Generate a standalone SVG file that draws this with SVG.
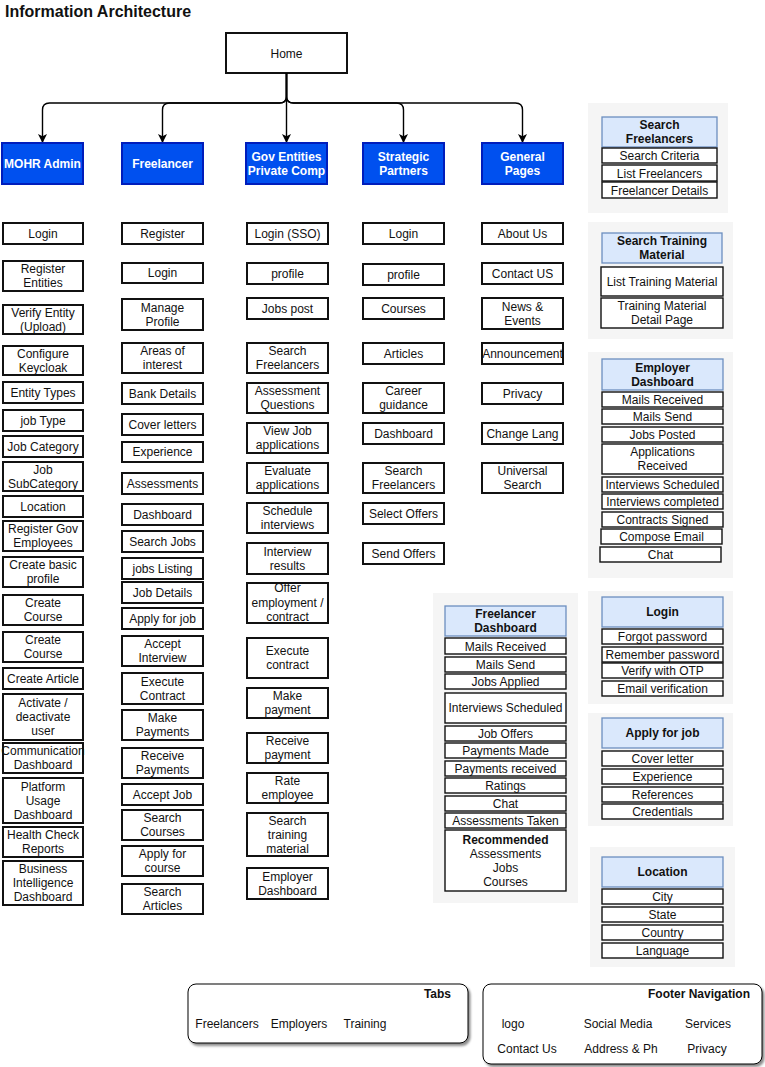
<svg xmlns="http://www.w3.org/2000/svg" width="765" height="1067" viewBox="0 0 765 1067">
  <style>
    text { font-family: "Liberation Sans", Arial, Helvetica, sans-serif; font-size: 12px; fill: #111; }
    .c { text-anchor: middle; }
    .b { font-weight: bold; }
    .box rect { fill: #fff; stroke: #111; stroke-width: 2; }
    .top rect { fill: #0050ef; stroke: #001dbc; stroke-width: 2; }
    .top text { fill: #fff; font-weight: bold; text-anchor: middle; }
    .panel { fill: #f5f5f5; }
    .hdr rect { fill: #dae8fc; stroke: #6c8ebf; stroke-width: 1.3; }
    .hdr text { font-weight: bold; text-anchor: middle; }
    .item rect { fill: #fff; stroke: #111; stroke-width: 1.4; }
    .item text { text-anchor: middle; }
    .edge { fill: none; stroke: #000; stroke-width: 1.4; }
    .card { fill: #fff; stroke: #000; stroke-width: 1; filter: url(#shadow); }
  </style>
  <defs>
    <marker id="arrow" viewBox="0 0 10 10" refX="10" refY="5" markerWidth="9" markerHeight="9" markerUnits="userSpaceOnUse" orient="auto">
      <path d="M0,0 L10,5 L0,10 L2.5,5 Z" fill="#000"/>
    </marker>
    <filter id="shadow" x="-5%" y="-10%" width="110%" height="130%">
      <feDropShadow dx="2" dy="2.5" stdDeviation="1" flood-color="#000" flood-opacity="0.45"/>
    </filter>
  </defs>

  <text x="5" y="17" class="b" style="font-size:16px">Information Architecture</text>

  <!-- root -->
  <g id="home" class="box">
    <rect x="226" y="33" width="121" height="40"/>
    <text x="286.5" y="58" class="c">Home</text>
  </g>

  <!-- tree connectors -->
  <g id="connectors">
    <path class="edge" marker-end="url(#arrow)" d="M286.5,73 V143"/>
    <path class="edge" marker-end="url(#arrow)" d="M286.5,73 V96 Q286.5,103 279.5,103 H49.5 Q42.5,103 42.5,110 V143"/>
    <path class="edge" marker-end="url(#arrow)" d="M286.5,73 V96 Q286.5,103 279.5,103 H169.5 Q162.5,103 162.5,110 V143"/>
    <path class="edge" marker-end="url(#arrow)" d="M286.5,73 V96 Q286.5,103 293.5,103 H396.5 Q403.5,103 403.5,110 V143"/>
    <path class="edge" marker-end="url(#arrow)" d="M286.5,73 V96 Q286.5,103 293.5,103 H515.5 Q522.5,103 522.5,110 V143"/>
  </g>

  <!-- sections -->
  <g id="mohr-admin" class="top"><rect x="2" y="143" width="81" height="41"/><text x="42.5" y="167.5">MOHR Admin</text></g>
  <g id="freelancer" class="top"><rect x="122" y="143" width="81" height="41"/><text x="162.5" y="167.5">Freelancer</text></g>
  <g id="gov-entities" class="top"><rect x="246" y="143" width="81" height="41"/><text x="286.5" y="160.5">Gov Entities</text><text x="286.5" y="174.5">Private Comp</text></g>
  <g id="strategic-partners" class="top"><rect x="363" y="143" width="81" height="41"/><text x="403.5" y="160.5">Strategic</text><text x="403.5" y="174.5">Partners</text></g>
  <g id="general-pages" class="top"><rect x="482" y="143" width="81" height="41"/><text x="522.5" y="160.5">General</text><text x="522.5" y="174.5">Pages</text></g>

  <!-- MOHR Admin pages -->
  <g id="admin-pages" class="box">
    <g id="a-login"><rect x="3" y="223" width="80" height="21"/><text x="43" y="237.5" class="c">Login</text></g>
    <g id="a-register-entities"><rect x="3" y="261" width="80" height="30"/><text x="43" y="273" class="c">Register</text><text x="43" y="287" class="c">Entities</text></g>
    <g id="a-verify-entity"><rect x="3" y="305" width="80" height="29"/><text x="43" y="316.5" class="c">Verify Entity</text><text x="43" y="330.5" class="c">(Upload)</text></g>
    <g id="a-keycloak"><rect x="3" y="346" width="80" height="29"/><text x="43" y="357.5" class="c">Configure</text><text x="43" y="371.5" class="c">Keycloak</text></g>
    <g id="a-entity-types"><rect x="3" y="382" width="80" height="21"/><text x="43" y="396.5" class="c">Entity Types</text></g>
    <g id="a-job-type"><rect x="3" y="410" width="80" height="21"/><text x="43" y="424.5" class="c">job Type</text></g>
    <g id="a-job-category"><rect x="3" y="436" width="80" height="21"/><text x="43" y="450.5" class="c">Job Category</text></g>
    <g id="a-job-subcategory"><rect x="3" y="462" width="80" height="29"/><text x="43" y="473.5" class="c">Job</text><text x="43" y="487.5" class="c">SubCategory</text></g>
    <g id="a-location"><rect x="3" y="496" width="80" height="21"/><text x="43" y="510.5" class="c">Location</text></g>
    <g id="a-register-gov"><rect x="3" y="521" width="80" height="30"/><text x="43" y="533" class="c">Register Gov</text><text x="43" y="547" class="c">Employees</text></g>
    <g id="a-basic-profile"><rect x="3" y="557" width="80" height="30"/><text x="43" y="569" class="c">Create basic</text><text x="43" y="583" class="c">profile</text></g>
    <g id="a-create-course-1"><rect x="3" y="595" width="80" height="30"/><text x="43" y="607" class="c">Create</text><text x="43" y="621" class="c">Course</text></g>
    <g id="a-create-course-2"><rect x="3" y="632" width="80" height="30"/><text x="43" y="644" class="c">Create</text><text x="43" y="658" class="c">Course</text></g>
    <g id="a-create-article"><rect x="3" y="668" width="80" height="21"/><text x="43" y="682.5" class="c">Create Article</text></g>
    <g id="a-activate-user"><rect x="3" y="694" width="80" height="46"/><text x="43" y="707" class="c">Activate /</text><text x="43" y="721" class="c">deactivate</text><text x="43" y="735" class="c">user</text></g>
    <g id="a-communication"><rect x="3" y="743" width="80" height="30"/><text x="43" y="755" class="c">Communication</text><text x="43" y="769" class="c">Dashboard</text></g>
    <g id="a-platform-usage"><rect x="3" y="778" width="80" height="45"/><text x="43" y="790.5" class="c">Platform</text><text x="43" y="804.5" class="c">Usage</text><text x="43" y="818.5" class="c">Dashboard</text></g>
    <g id="a-health-check"><rect x="3" y="827" width="80" height="30"/><text x="43" y="839" class="c">Health Check</text><text x="43" y="853" class="c">Reports</text></g>
    <g id="a-bi-dashboard"><rect x="3" y="861" width="80" height="44"/><text x="43" y="873" class="c">Business</text><text x="43" y="887" class="c">Intelligence</text><text x="43" y="901" class="c">Dashboard</text></g>
  </g>

  <!-- Freelancer pages -->
  <g id="freelancer-pages" class="box">
    <g id="f-register"><rect x="122" y="223" width="81" height="21"/><text x="162.5" y="237.5" class="c">Register</text></g>
    <g id="f-login"><rect x="122" y="263" width="81" height="20"/><text x="162.5" y="277" class="c">Login</text></g>
    <g id="f-manage-profile"><rect x="122" y="299" width="81" height="31"/><text x="162.5" y="311.5" class="c">Manage</text><text x="162.5" y="325.5" class="c">Profile</text></g>
    <g id="f-areas"><rect x="122" y="343" width="81" height="30"/><text x="162.5" y="355" class="c">Areas of</text><text x="162.5" y="369" class="c">interest</text></g>
    <g id="f-bank"><rect x="122" y="383" width="81" height="21"/><text x="162.5" y="397.5" class="c">Bank Details</text></g>
    <g id="f-cover"><rect x="122" y="414" width="81" height="21"/><text x="162.5" y="428.5" class="c">Cover letters</text></g>
    <g id="f-experience"><rect x="122" y="442" width="81" height="20"/><text x="162.5" y="456" class="c">Experience</text></g>
    <g id="f-assessments"><rect x="122" y="473" width="81" height="21"/><text x="162.5" y="487.5" class="c">Assessments</text></g>
    <g id="f-dashboard"><rect x="122" y="504" width="81" height="21"/><text x="162.5" y="518.5" class="c">Dashboard</text></g>
    <g id="f-search-jobs"><rect x="122" y="531" width="81" height="21"/><text x="162.5" y="545.5" class="c">Search Jobs</text></g>
    <g id="f-jobs-listing"><rect x="122" y="558" width="81" height="21"/><text x="162.5" y="572.5" class="c">jobs Listing</text></g>
    <g id="f-job-details"><rect x="122" y="582" width="81" height="21"/><text x="162.5" y="596.5" class="c">Job Details</text></g>
    <g id="f-apply-job"><rect x="122" y="608" width="81" height="21"/><text x="162.5" y="622.5" class="c">Apply for job</text></g>
    <g id="f-accept-interview"><rect x="122" y="636" width="81" height="30"/><text x="162.5" y="648" class="c">Accept</text><text x="162.5" y="662" class="c">Interview</text></g>
    <g id="f-execute-contract"><rect x="122" y="673" width="81" height="31"/><text x="162.5" y="685.5" class="c">Execute</text><text x="162.5" y="699.5" class="c">Contract</text></g>
    <g id="f-make-payments"><rect x="122" y="710" width="81" height="30"/><text x="162.5" y="722" class="c">Make</text><text x="162.5" y="736" class="c">Payments</text></g>
    <g id="f-receive-payments"><rect x="122" y="748" width="81" height="30"/><text x="162.5" y="760" class="c">Receive</text><text x="162.5" y="774" class="c">Payments</text></g>
    <g id="f-accept-job"><rect x="122" y="784" width="81" height="21"/><text x="162.5" y="798.5" class="c">Accept Job</text></g>
    <g id="f-search-courses"><rect x="122" y="810" width="81" height="30"/><text x="162.5" y="822" class="c">Search</text><text x="162.5" y="836" class="c">Courses</text></g>
    <g id="f-apply-course"><rect x="122" y="846" width="81" height="30"/><text x="162.5" y="858" class="c">Apply for</text><text x="162.5" y="872" class="c">course</text></g>
    <g id="f-search-articles"><rect x="122" y="884" width="81" height="30"/><text x="162.5" y="896" class="c">Search</text><text x="162.5" y="910" class="c">Articles</text></g>
  </g>

  <!-- Gov entities / private companies pages -->
  <g id="gov-pages" class="box">
    <g id="g-login-sso"><rect x="247" y="223" width="81" height="21"/><text x="287.5" y="237.5" class="c">Login (SSO)</text></g>
    <g id="g-profile"><rect x="247" y="263" width="81" height="21"/><text x="287.5" y="277.5" class="c">profile</text></g>
    <g id="g-jobs-post"><rect x="247" y="298" width="81" height="21"/><text x="287.5" y="312.5" class="c">Jobs post</text></g>
    <g id="g-search-freelancers"><rect x="247" y="343" width="81" height="30"/><text x="287.5" y="355" class="c">Search</text><text x="287.5" y="369" class="c">Freelancers</text></g>
    <g id="g-assessment-questions"><rect x="247" y="383" width="81" height="30"/><text x="287.5" y="395" class="c">Assessment</text><text x="287.5" y="409" class="c">Questions</text></g>
    <g id="g-view-applications"><rect x="247" y="423" width="81" height="30"/><text x="287.5" y="435" class="c">View Job</text><text x="287.5" y="449" class="c">applications</text></g>
    <g id="g-evaluate"><rect x="247" y="463" width="81" height="30"/><text x="287.5" y="475" class="c">Evaluate</text><text x="287.5" y="489" class="c">applications</text></g>
    <g id="g-schedule"><rect x="247" y="503" width="81" height="30"/><text x="287.5" y="515" class="c">Schedule</text><text x="287.5" y="529" class="c">interviews</text></g>
    <g id="g-interview-results"><rect x="247" y="543" width="81" height="31"/><text x="287.5" y="555.5" class="c">Interview</text><text x="287.5" y="569.5" class="c">results</text></g>
    <g id="g-offer"><rect x="247" y="583" width="81" height="40"/><text x="287.5" y="592" class="c">Offer</text><text x="287.5" y="607" class="c">employment /</text><text x="287.5" y="621" class="c">contract</text></g>
    <g id="g-execute-contract"><rect x="247" y="638" width="81" height="40"/><text x="287.5" y="655" class="c">Execute</text><text x="287.5" y="669" class="c">contract</text></g>
    <g id="g-make-payment"><rect x="247" y="688" width="81" height="30"/><text x="287.5" y="700" class="c">Make</text><text x="287.5" y="714" class="c">payment</text></g>
    <g id="g-receive-payment"><rect x="247" y="733" width="81" height="30"/><text x="287.5" y="745" class="c">Receive</text><text x="287.5" y="759" class="c">payment</text></g>
    <g id="g-rate"><rect x="247" y="773" width="81" height="30"/><text x="287.5" y="785" class="c">Rate</text><text x="287.5" y="799" class="c">employee</text></g>
    <g id="g-training"><rect x="247" y="813" width="81" height="43"/><text x="287.5" y="824.5" class="c">Search</text><text x="287.5" y="838.5" class="c">training</text><text x="287.5" y="852.5" class="c">material</text></g>
    <g id="g-employer-dashboard"><rect x="247" y="868" width="81" height="31"/><text x="287.5" y="880.5" class="c">Employer</text><text x="287.5" y="894.5" class="c">Dashboard</text></g>
  </g>

  <!-- Strategic partners pages -->
  <g id="partner-pages" class="box">
    <g id="s-login"><rect x="363" y="223" width="81" height="21"/><text x="403.5" y="237.5" class="c">Login</text></g>
    <g id="s-profile"><rect x="363" y="264" width="81" height="21"/><text x="403.5" y="278.5" class="c">profile</text></g>
    <g id="s-courses"><rect x="363" y="298" width="81" height="21"/><text x="403.5" y="312.5" class="c">Courses</text></g>
    <g id="s-articles"><rect x="363" y="343" width="81" height="21"/><text x="403.5" y="357.5" class="c">Articles</text></g>
    <g id="s-career"><rect x="363" y="383" width="81" height="30"/><text x="403.5" y="395" class="c">Career</text><text x="403.5" y="409" class="c">guidance</text></g>
    <g id="s-dashboard"><rect x="363" y="423" width="81" height="21"/><text x="403.5" y="437.5" class="c">Dashboard</text></g>
    <g id="s-search-freelancers"><rect x="363" y="463" width="81" height="30"/><text x="403.5" y="475" class="c">Search</text><text x="403.5" y="489" class="c">Freelancers</text></g>
    <g id="s-select-offers"><rect x="363" y="503" width="81" height="21"/><text x="403.5" y="517.5" class="c">Select Offers</text></g>
    <g id="s-send-offers"><rect x="363" y="543" width="81" height="21"/><text x="403.5" y="557.5" class="c">Send Offers</text></g>
  </g>

  <!-- General pages -->
  <g id="general-page-list" class="box">
    <g id="p-about"><rect x="482" y="223" width="81" height="21"/><text x="522.5" y="237.5" class="c">About Us</text></g>
    <g id="p-contact"><rect x="482" y="263" width="81" height="21"/><text x="522.5" y="277.5" class="c">Contact US</text></g>
    <g id="p-news"><rect x="482" y="298" width="81" height="31"/><text x="522.5" y="310.5" class="c">News &amp;</text><text x="522.5" y="324.5" class="c">Events</text></g>
    <g id="p-announcement"><rect x="482" y="343" width="81" height="21"/><text x="522.5" y="357.5" class="c">Announcement</text></g>
    <g id="p-privacy"><rect x="482" y="383" width="81" height="21"/><text x="522.5" y="397.5" class="c">Privacy</text></g>
    <g id="p-change-lang"><rect x="482" y="423" width="81" height="21"/><text x="522.5" y="437.5" class="c">Change Lang</text></g>
    <g id="p-universal-search"><rect x="482" y="463" width="81" height="30"/><text x="522.5" y="475" class="c">Universal</text><text x="522.5" y="489" class="c">Search</text></g>
  </g>

  <!-- Search Freelancers detail -->
  <g id="search-freelancers-detail">
    <rect class="panel" x="588" y="103" width="140" height="110"/>
    <g class="hdr"><rect x="602" y="117" width="115" height="30"/><text x="659.5" y="129">Search</text><text x="659.5" y="143">Freelancers</text></g>
    <g class="item"><rect x="602" y="148" width="115" height="15"/><text x="659.5" y="160">Search Criteria</text></g>
    <g class="item"><rect x="602" y="165" width="115" height="16"/><text x="659.5" y="177.5">List Freelancers</text></g>
    <g class="item"><rect x="602" y="182" width="115" height="16"/><text x="659.5" y="194.5">Freelancer Details</text></g>
  </g>

  <!-- Search Training Material detail -->
  <g id="training-material-detail">
    <rect class="panel" x="588" y="222" width="145" height="117"/>
    <g class="hdr"><rect x="602" y="233" width="120" height="30"/><text x="662" y="245">Search Training</text><text x="662" y="259">Material</text></g>
    <g class="item"><rect x="601" y="267" width="122" height="29"/><text x="662" y="285.5">List Training Material</text></g>
    <g class="item"><rect x="601" y="298" width="122" height="30"/><text x="662" y="310">Training Material</text><text x="662" y="324">Detail Page</text></g>
  </g>

  <!-- Employer Dashboard detail -->
  <g id="employer-dashboard-detail">
    <rect class="panel" x="588" y="352" width="145" height="226"/>
    <g class="hdr"><rect x="602" y="359" width="121" height="31"/><text x="662.5" y="371.5">Employer</text><text x="662.5" y="385.5">Dashboard</text></g>
    <g class="item"><rect x="602" y="392" width="121" height="15"/><text x="662.5" y="404">Mails Received</text></g>
    <g class="item"><rect x="602" y="409" width="121" height="15"/><text x="662.5" y="421">Mails Send</text></g>
    <g class="item"><rect x="602" y="427" width="121" height="15"/><text x="662.5" y="439">Jobs Posted</text></g>
    <g class="item"><rect x="602" y="444" width="121" height="30"/><text x="662.5" y="456">Applications</text><text x="662.5" y="470">Received</text></g>
    <g class="item"><rect x="602" y="477" width="121" height="15"/><text x="662.5" y="489">Interviews Scheduled</text></g>
    <g class="item"><rect x="602" y="494" width="121" height="15"/><text x="662.5" y="506">Interviews completed</text></g>
    <g class="item"><rect x="602" y="512" width="121" height="15"/><text x="662.5" y="524">Contracts Signed</text></g>
    <g class="item"><rect x="601" y="529" width="121" height="15"/><text x="661.5" y="541">Compose Email</text></g>
    <g class="item"><rect x="600" y="547" width="121" height="15"/><text x="660.5" y="559">Chat</text></g>
  </g>

  <!-- Freelancer Dashboard detail -->
  <g id="freelancer-dashboard-detail">
    <rect class="panel" x="433" y="593" width="145" height="310"/>
    <g class="hdr"><rect x="445" y="606" width="121" height="30"/><text x="505.5" y="618">Freelancer</text><text x="505.5" y="632">Dashboard</text></g>
    <g class="item"><rect x="445" y="638" width="121" height="16"/><text x="505.5" y="650.5">Mails Received</text></g>
    <g class="item"><rect x="445" y="657" width="121" height="15"/><text x="505.5" y="669">Mails Send</text></g>
    <g class="item"><rect x="445" y="674" width="121" height="15"/><text x="505.5" y="686">Jobs Applied</text></g>
    <g class="item"><rect x="445" y="693" width="121" height="30"/><text x="505.5" y="712">Interviews Scheduled</text></g>
    <g class="item"><rect x="445" y="726" width="121" height="15"/><text x="505.5" y="738">Job Offers</text></g>
    <g class="item"><rect x="445" y="743" width="121" height="15"/><text x="505.5" y="755">Payments Made</text></g>
    <g class="item"><rect x="445" y="761" width="121" height="15"/><text x="505.5" y="773">Payments received</text></g>
    <g class="item"><rect x="445" y="778" width="121" height="15"/><text x="505.5" y="790">Ratings</text></g>
    <g class="item"><rect x="445" y="796" width="121" height="15"/><text x="505.5" y="808">Chat</text></g>
    <g class="item"><rect x="445" y="813" width="121" height="15"/><text x="505.5" y="825">Assessments Taken</text></g>
    <g class="item"><rect x="445" y="830" width="121" height="61"/><text x="505.5" y="844" class="b">Recommended</text><text x="505.5" y="858">Assessments</text><text x="505.5" y="872">Jobs</text><text x="505.5" y="886">Courses</text></g>
  </g>

  <!-- Login detail -->
  <g id="login-detail">
    <rect class="panel" x="588" y="591" width="145" height="113"/>
    <g class="hdr"><rect x="602" y="597" width="121" height="30"/><text x="662.5" y="616">Login</text></g>
    <g class="item"><rect x="602" y="629" width="121" height="15"/><text x="662.5" y="641">Forgot password</text></g>
    <g class="item"><rect x="602" y="647" width="121" height="15"/><text x="662.5" y="659">Remember password</text></g>
    <g class="item"><rect x="602" y="663" width="121" height="15"/><text x="662.5" y="675">Verify with OTP</text></g>
    <g class="item"><rect x="602" y="681" width="121" height="15"/><text x="662.5" y="693">Email verification</text></g>
  </g>

  <!-- Apply for job detail -->
  <g id="apply-job-detail">
    <rect class="panel" x="588" y="713" width="145" height="113"/>
    <g class="hdr"><rect x="602" y="718" width="121" height="30"/><text x="662.5" y="737">Apply for job</text></g>
    <g class="item"><rect x="602" y="751" width="121" height="15"/><text x="662.5" y="763">Cover letter</text></g>
    <g class="item"><rect x="602" y="769" width="121" height="15"/><text x="662.5" y="781">Experience</text></g>
    <g class="item"><rect x="602" y="787" width="121" height="15"/><text x="662.5" y="799">References</text></g>
    <g class="item"><rect x="602" y="804" width="121" height="15"/><text x="662.5" y="816">Credentials</text></g>
  </g>

  <!-- Location detail -->
  <g id="location-detail">
    <rect class="panel" x="590" y="847" width="145" height="120"/>
    <g class="hdr"><rect x="602" y="857" width="121" height="30"/><text x="662.5" y="876">Location</text></g>
    <g class="item"><rect x="602" y="889" width="121" height="15"/><text x="662.5" y="901">City</text></g>
    <g class="item"><rect x="602" y="907" width="121" height="15"/><text x="662.5" y="919">State</text></g>
    <g class="item"><rect x="602" y="925" width="121" height="15"/><text x="662.5" y="937">Country</text></g>
    <g class="item"><rect x="602" y="943" width="121" height="15"/><text x="662.5" y="955">Language</text></g>
  </g>

  <!-- Tabs -->
  <g id="tabs">
    <rect class="card" x="188" y="984" width="280" height="59" rx="8"/>
    <text x="451" y="998" class="b" text-anchor="end">Tabs</text>
    <text x="227" y="1028" class="c">Freelancers</text>
    <text x="299" y="1028" class="c">Employers</text>
    <text x="365" y="1028" class="c">Training</text>
  </g>

  <!-- Footer navigation -->
  <g id="footer-navigation">
    <rect class="card" x="483" y="984" width="279" height="80" rx="8"/>
    <text x="750" y="998" class="b" text-anchor="end">Footer Navigation</text>
    <text x="513" y="1028" class="c">logo</text>
    <text x="618" y="1028" class="c">Social Media</text>
    <text x="708" y="1028" class="c">Services</text>
    <text x="527" y="1053" class="c">Contact Us</text>
    <text x="621" y="1053" class="c">Address &amp; Ph</text>
    <text x="707" y="1053" class="c">Privacy</text>
  </g>
</svg>
